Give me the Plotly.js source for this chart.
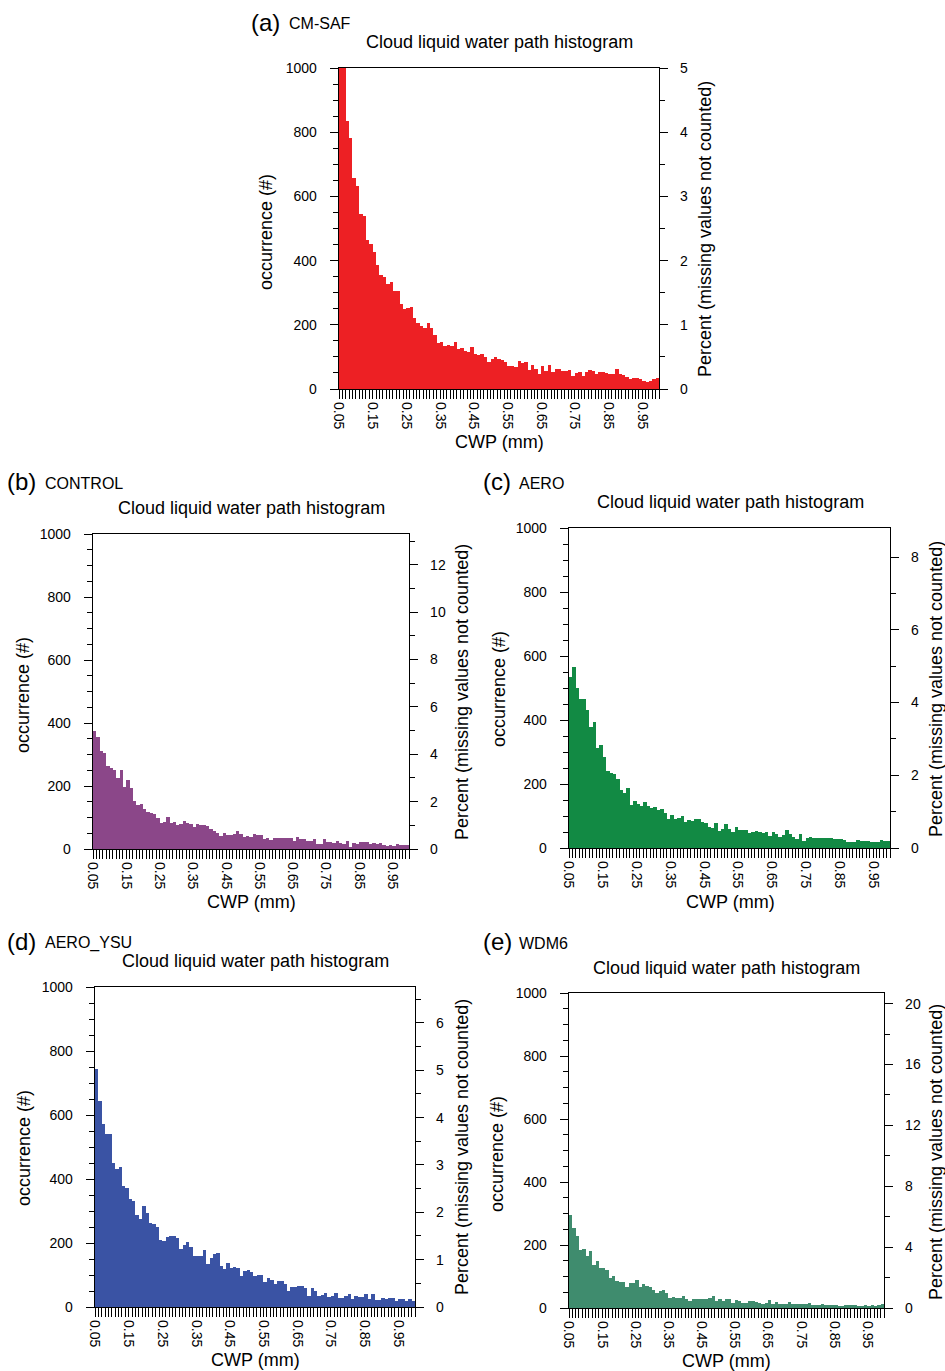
<!DOCTYPE html>
<html><head><meta charset="utf-8">
<script src="https://cdn.plot.ly/plotly-3.0.1.min.js"></script>
<style>html,body{margin:0;padding:0;background:#fff}#chart{width:945px;height:1371px}</style>
</head><body><div id="chart"></div><script>
// ---- data ----
const binStart = 0.05;
const binWidth = 0.01;
const xTickVals = [0.05, 0.15, 0.25, 0.35, 0.45, 0.55, 0.65, 0.75, 0.85, 0.95];
const xTickLabels = ['0.05','0.15','0.25','0.35','0.45','0.55','0.65','0.75','0.85','0.95'];
const yTickVals = [0, 200, 400, 600, 800, 1000];
const panelLetters = ['(a)', '(b)', '(c)', '(d)', '(e)'];
const panelNames = ['CM-SAF', 'CONTROL', 'AERO', 'AERO_YSU', 'WDM6'];
const chartTitle = 'Cloud liquid water path histogram';
const xTitle = 'CWP (mm)';
const yTitle = 'occurrence (#)';
const y2Title = 'Percent (missing values not counted)';
// percent axis: value of the right axis at the top (1000 occurrences)
const percentAtTop = [5.0, 13.3, 8.8, 6.76, 20.7];

const cmsaf = [1080,1020,836,783,657,632,544,539,464,453,426,386,355,349,328,332,305,306,264,248,
  252,254,222,206,196,189,205,190,167,142,145,134,138,134,146,126,128,118,115,131,
  109,106,109,101,85,92,101,93,91,83,73,73,67,88,80,83,59,75,61,47,
  72,56,74,54,62,63,57,57,59,40,50,53,42,53,59,56,47,53,53,49,
  46,47,61,48,44,37,31,35,34,32,26,23,26,30,33];
const control = [375,357,311,305,263,258,252,224,250,198,219,193,152,139,143,127,117,114,110,98,
  82,86,102,84,85,77,80,90,81,79,71,78,75,76,74,63,57,50,42,50,
  44,44,47,56,48,38,40,39,48,46,44,32,36,30,34,34,35,34,35,36,
  26,37,32,31,26,26,31,16,16,31,23,22,18,24,18,16,25,7,18,15,
  21,22,22,16,18,17,18,13,10,13,10,15,12,13,14];
const aero = [535,565,501,465,465,430,379,394,314,323,284,241,235,232,216,181,172,189,134,146,
  139,132,143,132,124,128,120,123,108,91,103,92,95,100,82,87,83,91,91,80,
  77,66,64,77,53,60,75,60,51,67,56,56,56,46,49,52,49,46,49,38,
  49,44,35,40,56,44,35,27,44,22,32,34,30,30,31,32,30,30,28,28,
  27,25,18,20,18,25,22,22,23,20,19,20,24,23,22];
const aeroYsu = [743,643,572,542,541,449,431,437,379,371,336,331,289,275,316,293,261,258,249,208,
  205,218,221,223,216,180,195,203,186,158,159,159,177,133,153,166,169,128,120,136,
  122,125,122,98,113,115,108,98,100,101,78,92,84,73,81,80,71,51,64,61,
  66,65,60,35,58,50,34,36,43,30,34,43,27,29,33,40,25,34,30,30,
  40,26,40,23,23,28,25,27,27,19,26,25,20,24,20];
const wdm6 = [296,255,230,183,186,165,181,136,150,126,126,121,96,102,86,84,84,66,80,80,
  89,68,76,70,67,57,49,54,57,47,32,35,33,32,38,29,23,28,29,29,
  28,28,31,37,22,27,23,28,27,17,25,22,15,17,22,23,19,15,13,15,
  24,12,19,13,13,13,18,12,13,13,14,12,15,8,11,8,12,10,10,11,
  11,5,7,11,10,8,11,7,6,8,7,10,7,8,12];
const seriesList = [cmsaf, control, aero, aeroYsu, wdm6];

// ---- styles / positions (pixels in the 945x1371 page) ----
const W = 945, H = 1371;
const colors = ['#ED2024', '#8B4789', '#128A44', '#3A53A4', '#3F8C6E'];
const boxes = [ // [left, top, right, bottom]
  [339, 68, 659, 389],
  [93, 534, 409, 849],
  [569, 528, 890, 848],
  [95, 987, 415, 1307],
  [569, 993, 884, 1308]
];
const pctDtick = [1, 2, 2, 1, 4];
const pctMinor = [0.5, 1, 1, 0.5, 2];
const letterPos = [[249, 22], [5, 481], [481, 481], [5, 941], [481, 942]];
const namePos = [[287, 24], [43, 483], [517, 483], [43, 943], [517, 943]];
const titlePos = [[499, 42], [251, 508], [730, 502], [255, 961], [726, 968]];
const yTitlePos = [[266, 232], [23, 695], [499, 689], [24, 1148], [497, 1154]];
const y2TitlePos = [[705, 229], [462, 692], [936, 689], [462, 1147], [936, 1152]];
const xTitlePos = [[499, 442], [251, 902], [730, 902], [255, 1360], [726, 1361]];

const FONT = 'Liberation Sans, Arial, Helvetica, sans-serif';
const px = v => v / W;
const py = v => 1 - v / H;

const centers = seriesList[0].map((_, k) => binStart + binWidth * (k + 0.5));

const data = [];
const layout = {
  width: W, height: H,
  margin: {l: 0, r: 0, t: 0, b: 0},
  paper_bgcolor: '#fff', plot_bgcolor: '#fff',
  showlegend: false, bargap: 0,
  font: {family: FONT, color: '#000'},
  annotations: []
};

seriesList.forEach((vals, i) => {
  const n = i + 1;
  const xs = n === 1 ? '' : String(n);
  const xId = 'x' + xs, yId = 'y' + xs, y2Id = 'y' + (n + 5);
  const b = boxes[i];
  data.push({
    type: 'bar', x: centers, y: vals, width: binWidth,
    xaxis: xId, yaxis: yId,
    marker: {color: colors[i], line: {width: 0}},
    hoverinfo: 'x+y'
  });
  // empty trace so that the right-hand percent axis is drawn
  data.push({type: 'scatter', mode: 'markers', x: [], y: [], xaxis: xId, yaxis: y2Id, hoverinfo: 'skip'});
  layout['xaxis' + xs] = {
    domain: [px(b[0]), px(b[2])], anchor: yId,
    range: [binStart, binStart + binWidth * vals.length],
    tickmode: 'array', tickvals: xTickVals, ticktext: xTickLabels,
    ticks: 'outside', ticklen: 9, tickwidth: 1, tickcolor: '#000',
    minor: {tickmode: 'linear', tick0: binStart, dtick: binWidth, ticks: 'outside', ticklen: 9, tickwidth: 1, tickcolor: '#000', showgrid: false},
    tickangle: 90, tickfont: {size: 14, family: FONT, color: '#000'},
    showline: true, linecolor: '#000', linewidth: 1.3, mirror: true,
    showgrid: false, zeroline: false, fixedrange: true
  };
  layout['yaxis' + xs] = {
    domain: [py(b[3]), py(b[1])], anchor: xId,
    range: [0, 1000],
    tickmode: 'array', tickvals: yTickVals,
    ticks: 'outside', ticklen: 8, tickwidth: 1, tickcolor: '#000',
    minor: {tickmode: 'linear', tick0: 0, dtick: 50, ticks: 'outside', ticklen: 5, tickwidth: 1, tickcolor: '#000', showgrid: false},
    tickfont: {size: 14, family: FONT, color: '#000'}, ticklabelstandoff: 10,
    showline: true, linecolor: '#000', linewidth: 1.3,
    showgrid: false, zeroline: false, fixedrange: true
  };
  layout['yaxis' + (n + 5)] = {
    overlaying: yId, anchor: xId, side: 'right',
    range: [0, percentAtTop[i]],
    tickmode: 'linear', tick0: 0, dtick: pctDtick[i],
    ticks: 'outside', ticklen: 8, tickwidth: 1, tickcolor: '#000',
    minor: {tickmode: 'linear', tick0: 0, dtick: pctMinor[i], ticks: 'outside', ticklen: 5, tickwidth: 1, tickcolor: '#000', showgrid: false},
    tickfont: {size: 14, family: FONT, color: '#000'}, ticklabelstandoff: 9,
    showline: true, linecolor: '#000', linewidth: 1.3,
    showgrid: false, zeroline: false, fixedrange: true
  };
  const ann = (text, pos, size, opts) => Object.assign({
    text: text, xref: 'paper', yref: 'paper', x: px(pos[0]), y: py(pos[1]),
    showarrow: false, xanchor: 'center', yanchor: 'middle',
    font: {size: size, family: FONT, color: '#000'}
  }, opts || {});
  layout.annotations.push(ann(panelLetters[i], letterPos[i], 24, {xanchor: 'left'}));
  layout.annotations.push(ann(panelNames[i], namePos[i], 16, {xanchor: 'left'}));
  layout.annotations.push(ann(chartTitle, titlePos[i], 18));
  layout.annotations.push(ann(yTitle, yTitlePos[i], 18, {textangle: -90}));
  layout.annotations.push(ann(y2Title, y2TitlePos[i], 18, {textangle: -90}));
  layout.annotations.push(ann(xTitle, xTitlePos[i], 18));
});

Plotly.newPlot('chart', data, layout, {displayModeBar: false, staticPlot: true});
</script></body></html>
